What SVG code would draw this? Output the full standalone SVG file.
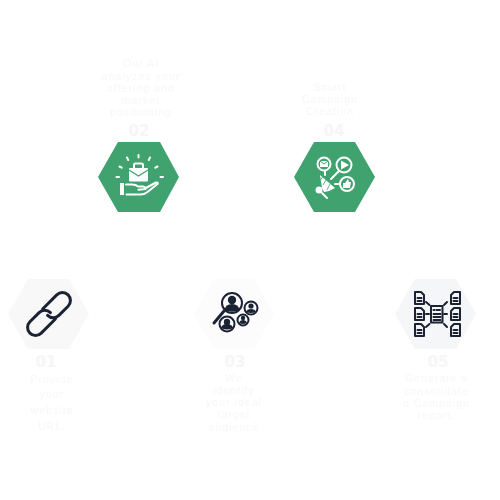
<svg xmlns="http://www.w3.org/2000/svg" width="500" height="500" viewBox="0 0 500 500">
<style>
.t{font-family:"Liberation Sans",Arial,sans-serif;font-size:10.400px;letter-spacing:1.100px;fill:#f8f8f8;text-anchor:middle}
.n{font-family:"DejaVu Sans","Liberation Sans",sans-serif;font-size:15px;font-weight:700;fill:#f6f6f6;text-anchor:middle}
.g{fill:#3fa26f}
.w{fill:none;stroke:#fff;stroke-width:2;stroke-linecap:round;stroke-linejoin:round}
.wf{fill:#fff}
.d{fill:none;stroke:#1a2233;stroke-width:2;stroke-linecap:round;stroke-linejoin:round}
.df{fill:#1a2233}
</style>
<defs>
<g id="doc-l"><path class="d" stroke-width="1.600" d="M0 0h6l3 3v9H0z"/><path class="d" stroke-width="1.200" d="M2.500 6h4M2.500 9h4"/></g>
<g id="doc-r"><path class="d" stroke-width="1.600" d="M9 0H3L0 3v9h9z"/><path class="d" stroke-width="1.200" d="M2.500 6h4M2.500 9h4"/></g>
</defs>
<rect width="500" height="500" fill="#fff"/>
<g id="connectors"/>
<g id="node-01">
<polygon points="8,314 28,279 69,279 89,314 69,349 28,349" fill="#f8f8f8"/>
<g transform="translate(49 314) rotate(-45)" fill="none" stroke="#1a2233" stroke-width="3" stroke-linecap="round">
<path d="M-1-8H19A8 8 0 0 1 19 8H6A8 8 0 0 1-2 0"/>
<path d="M1 8H-19A8 8 0 0 1-19-8H-6A8 8 0 0 1 2 0"/>
</g>
<text class="n" x="46" y="367">01</text>
<text class="t" x="52" y="383">Provide</text>
<text class="t" x="52" y="398">your</text>
<text class="t" x="52" y="414">website</text>
<text class="t" x="52" y="430">URL.</text>
</g>
<g id="node-02">
<polygon class="g" points="98,177 118,142 160,142 179,177 160,212 118,212"/>
<rect class="wf" x="129" y="168" width="19" height="13.500" rx="1"/>
<path class="w" stroke-width="1.500" d="M134 168v-3q0-1.500 1.500-1.500h6q1.500 0 1.500 1.500v3"/>
<path d="M129 170l9.500 6 9.500-6" fill="none" stroke="#3fa26f" stroke-width="1.200"/>
<path class="w" stroke-width="1.500" d="M138.500 155v2.500M127 157.500l1.200 2.500M150 157.500l-1.200 2.500M119.500 166.500l2.200 1.200M157.500 166.500l-2.200 1.200M116.500 177h2.500M160.500 177h2.500"/>
<rect class="wf" x="120" y="183" width="4" height="12"/>
<path class="w" d="M126 184.500h6q4 0 6 2h5q3 .5 2.500 2.500l-7 .8M145 188.500l11-6q2.500-.5 1.500 1.500l-10 8q-3 2.500-7 2.500h-14"/>
<text class="t" x="141" y="67">Our AI</text>
<text class="t" x="141" y="80">analyzes your</text>
<text class="t" x="141" y="92">offering and</text>
<text class="t" x="141" y="104">market</text>
<text class="t" x="141" y="116">positioning</text>
<text class="n" x="139" y="136">02</text>
</g>
<g id="node-03">
<polygon points="194,314 214,279 254,279 274,314 254,349 214,349" fill="#fcfcfc"/>
<circle class="d" cx="232" cy="303" r="10" stroke-width="2.300"/>
<circle class="df" cx="232" cy="300" r="4.200"/>
<path class="df" d="M224.500 310q1-6 7.500-6t7.500 6q-7.500 3.500-15 0z"/>
<path d="M224 311l-10 12" fill="none" stroke="#1a2233" stroke-width="3" stroke-linecap="round"/>
<circle class="d" cx="251" cy="308" r="6.500" stroke-width="1.600"/>
<circle class="df" cx="251" cy="306" r="2.600"/>
<path class="df" d="M246 312q1-3 5-3t5 3q-5 2-10 0z"/>
<circle class="d" cx="227" cy="324" r="7.500" stroke-width="1.600"/>
<circle class="df" cx="227" cy="322" r="3.200"/>
<path class="df" d="M221 328q1-4 6-4t6 4q-6 3-12 0z"/>
<circle class="d" cx="243" cy="320" r="5.500" stroke-width="1.500"/>
<circle class="df" cx="243" cy="318" r="2.200"/>
<path class="df" d="M239 323q1-3 4-3t4 3q-4 2-8 0z"/>
<text class="n" x="235" y="367">03</text>
<text class="t" x="234" y="382">We</text>
<text class="t" x="234" y="394">identify</text>
<text class="t" x="234" y="406">your ideal</text>
<text class="t" x="234" y="418">target</text>
<text class="t" x="234" y="431">audience</text>
</g>
<g id="node-04">
<polygon class="g" points="294,177 314,142 355,142 375,177 355,212 314,212"/>
<circle class="w" cx="324" cy="164" r="6.500"/>
<path class="wf" d="M320 161h8v6h-8z"/>
<path d="M320 161l4 3 4-3" fill="none" stroke="#3fa26f"/>
<circle class="w" cx="344" cy="165" r="7.500"/>
<path class="wf" d="M341 160.500l8 4.500-8 4.500z"/>
<circle class="w" cx="347" cy="184" r="7"/>
<path class="wf" d="M343 183h2l3-4 1 3h2l-1 6h-7z"/>
<path class="w" d="M325 171v4M331 179l8-8M335 184h4"/>
<path class="wf" d="M320 175l15 13-6 3-5 1-2-4z"/>
<path d="M322.500 177l-2 3M326 180l-3 5M330 184l-3 6" fill="none" stroke="#3fa26f" stroke-width=".8"/>
<circle class="wf" cx="319" cy="190" r="3.500"/>
<path class="w" d="M322 193l5 5"/>
<text class="t" x="330" y="91">Smart</text>
<text class="t" x="330" y="103">Campaign</text>
<text class="t" x="330" y="115">Creation</text>
<text class="n" x="334" y="136">04</text>
</g>
<g id="node-05">
<polygon points="395,314 415,279 456,279 476,314 456,349 415,349" fill="#f5f6f7"/>
<rect class="d" x="431" y="306" width="11.500" height="16.500" stroke-width="1.600"/>
<path class="d" stroke-width="1.200" d="M433.500 310h1M436.500 310h3.500M433.500 314h7M433.500 317h7M433.500 320h7"/>
<use href="#doc-l" x="415" y="292"/>
<use href="#doc-l" x="415" y="308"/>
<use href="#doc-l" x="415" y="324"/>
<use href="#doc-r" x="451" y="292"/>
<use href="#doc-r" x="451" y="308"/>
<use href="#doc-r" x="451" y="324"/>
<path class="d" stroke-width="1.500" d="M426 302l3.500 3M426 314h3M426 327l3.500-3M447 302l-3 3M447 314h-3M447 327l-3-3"/>
<text class="n" x="438" y="367">05</text>
<text class="t" x="436.500" y="382">Generate a</text>
<text class="t" x="436.500" y="395">consolidate</text>
<text class="t" x="436.500" y="407">d Campaign</text>
<text class="t" x="436.500" y="419">report.</text>
</g>
</svg>
